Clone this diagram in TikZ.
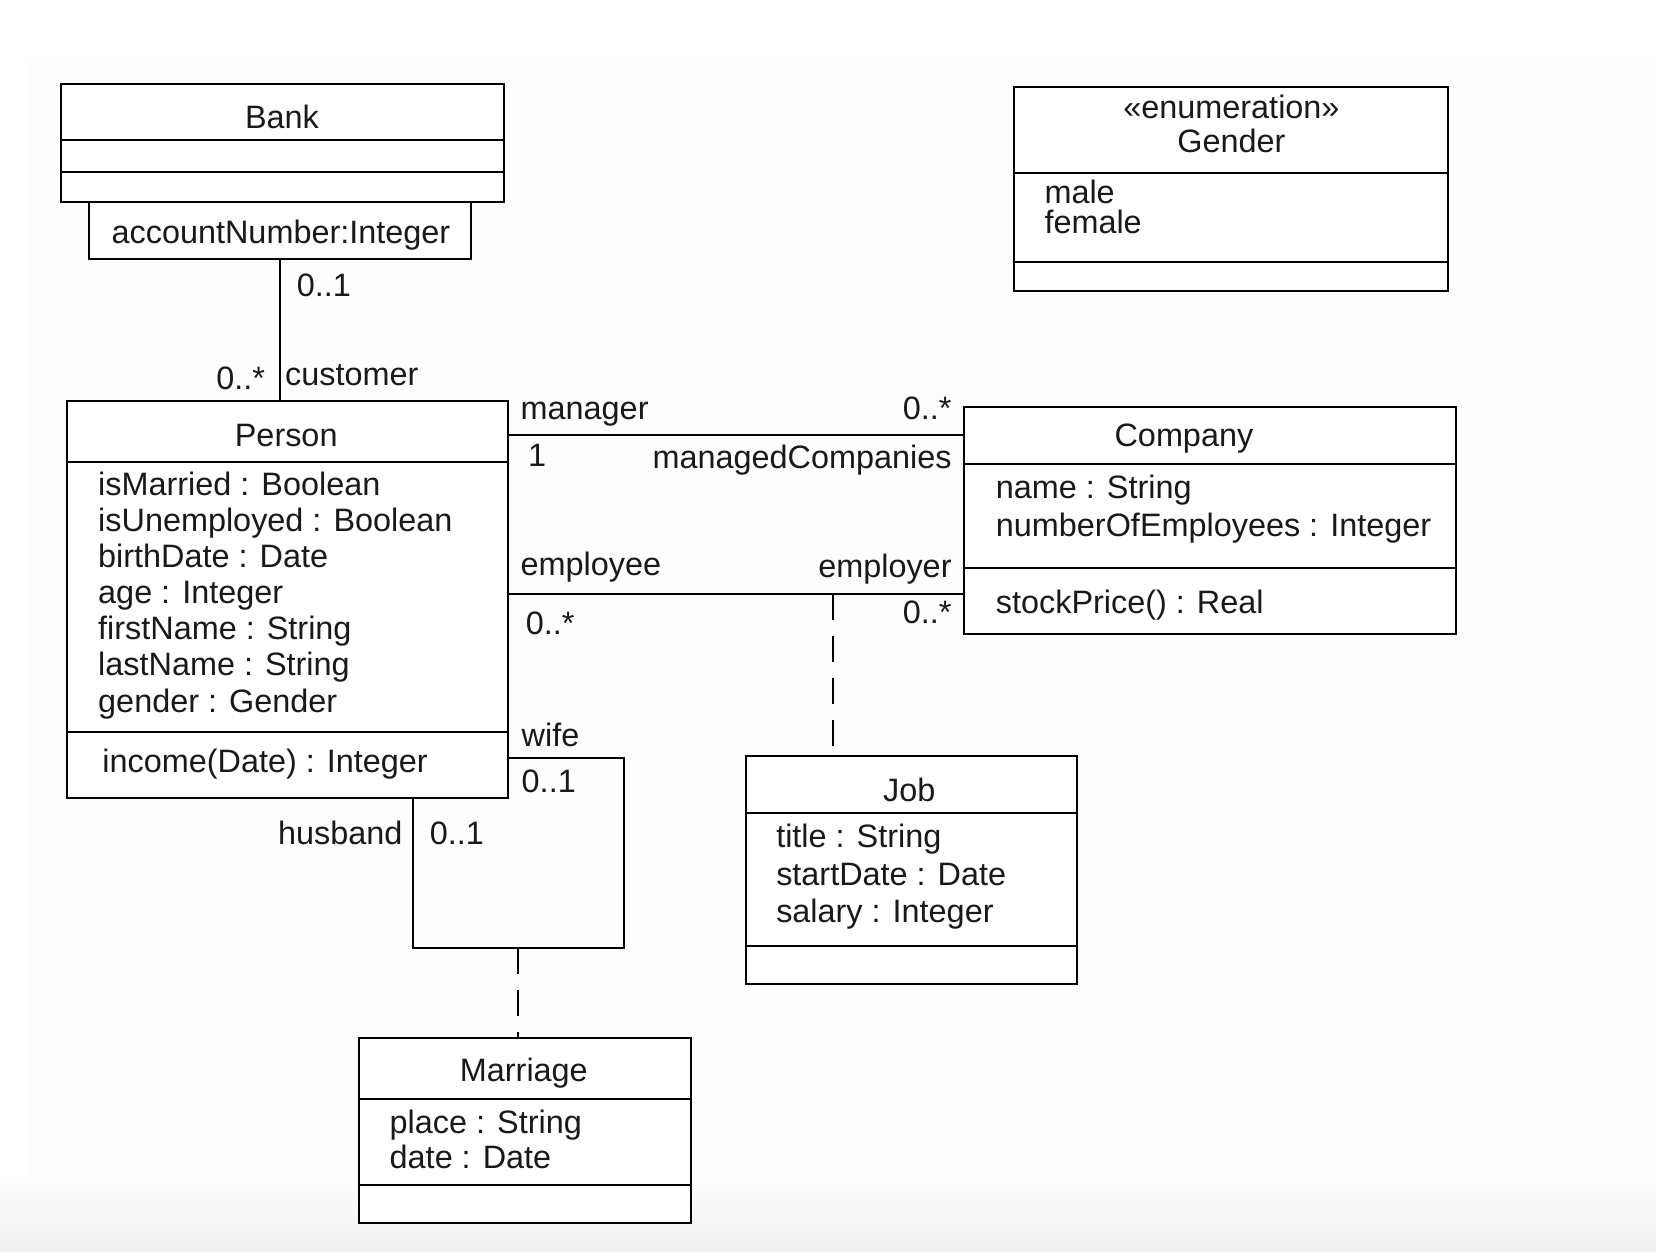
\documentclass[tikz,border=0pt]{standalone}
\usepackage{fontspec}
\setmainfont{Liberation Sans}
\usetikzlibrary{fit}
\begin{document}
\begin{tikzpicture}[x=0.528pt,y=-0.528pt,
  box/.style={draw, line width=1pt, inner sep=0pt, outer sep=0pt, fill=white},
  divider/.style={line width=1pt},
  txt/.style={inner sep=0pt, outer sep=0pt, font=\fontsize{16.2pt}{18pt}\selectfont, text=black!90},
  lbl/.style={txt, anchor=west},
  rlbl/.style={txt, anchor=east},
  attr/.style={txt, anchor=base west},
  conn/.style={line width=1pt},
  assoc/.style={line width=1pt, dash pattern=on 13pt off 8pt}]
% background
\useasboundingbox (0,0) rectangle (1568,1185);
\fill[white] (0,0) rectangle (1568,1185);
\fill[black!0.8] (28,54) rectangle (1568,1185);
\shade[top color=black!0.8, bottom color=black!6] (0,1120) rectangle (1568,1185);

% Bank
\node[box, fit={(58,80)(477,191)}] (bank) {};
\draw[divider] (58,133) -- (477,133);
\draw[divider] (58,163) -- (477,163);
\node[txt] (bankname) at (267,111) {Bank};
\node[box, fit={(84,191)(446,245)}] (qual) {};
\node[txt] (qualtxt) at (266,223) {accountNumber:Integer};

% Gender
\node[box, fit={(960,82)(1371,276)}] (gender) {};
\draw[divider] (960,164) -- (1371,164);
\draw[divider] (960,248) -- (1371,248);
\node[txt] (gst) at (1166,101) {«enumeration»};
\node[txt] (gname) at (1166,133) {Gender};
\node[attr] (gm) at (989,193) {male};
\node[attr] (gf) at (989,221) {female};

% Person
\node[box, fit={(63,380)(481,756)}] (person) {};
\draw[divider] (63,437) -- (481,437);
\draw[divider] (63,693) -- (481,693);
\node[txt] (pname) at (271,412) {Person};
\foreach \t [count=\i from 0] in {isMarried : Boolean, isUnemployed : Boolean, birthDate : Date, age : Integer, firstName : String, lastName : String, gender : Gender}
  \node[attr] (pa\i) at (93,{469+34.2*\i}) {\t};
\node[attr] (pop) at (97,731) {income(Date) : Integer};

% Company
\node[box, fit={(913,385)(1379,600)}] (company) {};
\draw[divider] (913,439) -- (1379,439);
\draw[divider] (913,538) -- (1379,538);
\node[txt] (cname) at (1121,415) {Company};
\node[attr] (ca1) at (943,472) {name : String};
\node[attr] (ca2) at (943,508) {numberOfEmployees : Integer};
\node[attr] (cop) at (943,581) {stockPrice() : Real};

% Job
\node[box, fit={(706,716)(1020,932)}] (job) {};
\draw[divider] (706,770) -- (1020,770);
\draw[divider] (706,896) -- (1020,896);
\node[txt] (jname) at (861,748) {Job};
\node[attr] (ja1) at (735,802) {title : String};
\node[attr] (ja2) at (735,838) {startDate : Date};
\node[attr] (ja3) at (735,873) {salary : Integer};

% Marriage
\node[box, fit={(340,983)(654,1158)}] (marriage) {};
\draw[divider] (340,1041) -- (654,1041);
\draw[divider] (340,1122) -- (654,1122);
\node[txt] (mname) at (496,1016) {Marriage};
\node[attr] (ma1) at (369,1073) {place : String};
\node[attr] (ma2) at (369,1106) {date : Date};

% Bank -- Person
\draw[conn] (qual.south) -- (qual.south |- person.north);
\node[lbl] (b1) at (281,270) {0..1};
\node[rlbl] (b2) at (251,358) {0..*};
\node[lbl] (b3) at (270,355) {customer};

% manager association
\draw[conn] (person.east |- 0,412) -- (company.west |- 0,412);
\node[lbl] (m1) at (493,392) {manager};
\node[rlbl] (m2) at (901,387) {0..*};
\node[lbl] (m3) at (500,431) {1};
\node[rlbl] (m4) at (901,436) {managedCompanies};

% employment association
\draw[conn] (person.east |- 0,562) -- (company.west |- 0,562);
\node[lbl] (e1) at (493,537) {employee};
\node[rlbl] (e2) at (901,539) {employer};
\node[lbl] (e3) at (498,590) {0..*};
\node[rlbl] (e4) at (901,580) {0..*};
\coordinate (jobattach) at (789,562);
\draw[assoc] (jobattach) -- (jobattach |- job.north);

% marriage association
\coordinate (loopA) at (391,898);
\coordinate (loopB) at (591,898);
\coordinate (loopmid) at (490,898);
\draw[conn] (person.south -| loopA) -- (loopA) -- (loopB) -- (loopB |- 0,718) -- (person.east |- 0,718);
\draw[assoc] (loopmid) -- (loopmid |- marriage.north);
\node[lbl] (w1) at (494,696) {wife};
\node[lbl] (w2) at (494,740) {0..1};
\node[rlbl] (h1) at (381,789) {husband};
\node[lbl] (h2) at (407,789) {0..1};
\end{tikzpicture}
\end{document}
